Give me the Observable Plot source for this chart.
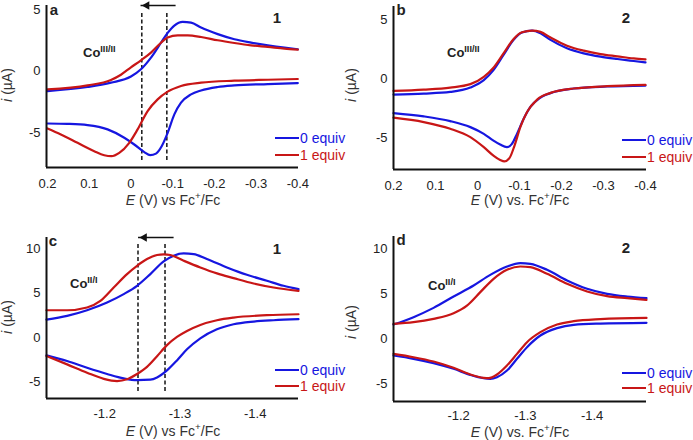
<!DOCTYPE html>
<html><head><meta charset="utf-8">
<script src="https://cdn.jsdelivr.net/npm/d3@7"></script>
<script src="https://cdn.jsdelivr.net/npm/@observablehq/plot@0.6"></script>
<style>
body{margin:0;background:#fff;}
#root{position:relative;width:693px;height:440px;overflow:hidden;background:#fff;font-family:"Liberation Sans",Arial,sans-serif;color:#222;}
.panel{position:absolute;}
.panel svg{max-width:none !important;background:transparent !important;overflow:visible;}
.t{position:absolute;white-space:nowrap;line-height:1;}
.b{font-weight:bold;}
.leg{position:absolute;display:flex;align-items:center;height:16px;font-size:14px;line-height:1;}
.leg span.sw{display:inline-block;width:24px;height:2px;margin-right:1px;}
sup{font-size:0.7em;vertical-align:0;position:relative;top:-0.6em;}
</style></head><body><div id="root"></div>
<script>
// ---------------- data ----------------
const blue = "#1616e0", red = "#c81616";
const seriesLabels = ["0 equiv", "1 equiv"];

// panel a: 1, Co(III/II)  [E (V), i (µA)]
const aBlue0Up = [[0.2,-1.63],[0.104,-1.3],[0.048,-0.95],[0.0,-0.45],[-0.024,0.14],[-0.048,1.09],[-0.072,2.3],[-0.088,3.1],[-0.104,3.7],[-0.124,4.0],[-0.144,3.94],[-0.168,3.53],[-0.208,3.0],[-0.248,2.58],[-0.288,2.31],[-0.328,2.09],[-0.368,1.9],[-0.4,1.77]];
const aRed1Up = [[0.2,-1.5],[0.104,-1.17],[0.048,-0.73],[0.024,-0.3],[0.0,0.3],[-0.024,0.87],[-0.048,1.5],[-0.072,2.3],[-0.088,2.72],[-0.112,2.9],[-0.136,2.9],[-0.168,2.77],[-0.208,2.5],[-0.248,2.28],[-0.288,2.09],[-0.328,1.96],[-0.368,1.82],[-0.4,1.74]];
const aBlue0Down = [[0.2,-4.27],[0.152,-4.3],[0.104,-4.4],[0.056,-4.75],[0.016,-5.43],[-0.008,-5.98],[-0.032,-6.6],[-0.046,-6.85],[-0.06,-6.72],[-0.074,-6.1],[-0.088,-5.03],[-0.104,-3.53],[-0.12,-2.58],[-0.144,-1.9],[-0.168,-1.58],[-0.208,-1.3],[-0.248,-1.17],[-0.328,-1.06],[-0.4,-0.98]];
const aRed1Down = [[0.2,-4.67],[0.168,-5.16],[0.128,-5.84],[0.088,-6.52],[0.064,-6.85],[0.047,-6.93],[0.028,-6.66],[0.004,-5.84],[-0.016,-4.75],[-0.04,-3.26],[-0.064,-2.31],[-0.088,-1.68],[-0.12,-1.22],[-0.168,-0.95],[-0.248,-0.79],[-0.328,-0.71],[-0.4,-0.65]];

// panel b: 2, Co(III/II)
const bBlue0Up = [[0.2,-1.36],[0.128,-1.28],[0.065,-1.14],[0.017,-0.77],[-0.015,-0.14],[-0.038,0.71],[-0.062,1.99],[-0.086,3.27],[-0.106,3.89],[-0.13,4.06],[-0.15,3.84],[-0.174,3.27],[-0.213,2.56],[-0.253,2.13],[-0.293,1.85],[-0.333,1.65],[-0.372,1.48],[-0.4,1.36]];
const bRed1Up = [[0.2,-1.05],[0.128,-0.94],[0.065,-0.77],[0.017,-0.48],[-0.015,0.14],[-0.038,0.91],[-0.062,2.13],[-0.086,3.35],[-0.106,3.92],[-0.13,4.06],[-0.15,3.95],[-0.174,3.47],[-0.213,2.78],[-0.253,2.36],[-0.293,2.07],[-0.333,1.88],[-0.372,1.7],[-0.4,1.62]];
const bBlue0Down = [[0.2,-2.93],[0.128,-3.21],[0.065,-3.61],[0.017,-4.12],[-0.015,-4.69],[-0.038,-5.26],[-0.054,-5.6],[-0.07,-5.82],[-0.082,-5.54],[-0.094,-4.69],[-0.11,-3.41],[-0.126,-2.41],[-0.15,-1.62],[-0.182,-1.14],[-0.229,-0.85],[-0.309,-0.68],[-0.4,-0.6]];
const bRed1Down = [[0.2,-3.32],[0.128,-3.69],[0.065,-4.26],[0.017,-4.97],[-0.015,-5.82],[-0.038,-6.53],[-0.054,-6.9],[-0.064,-7.02],[-0.076,-6.75],[-0.088,-5.7],[-0.102,-4.12],[-0.118,-2.84],[-0.142,-1.79],[-0.174,-1.22],[-0.229,-0.85],[-0.309,-0.65],[-0.4,-0.54]];

// panel c: 1, Co(II/I)
const cBlue0Up = [[-1.1226,2.04],[-1.15,2.45],[-1.1765,3.09],[-1.2031,3.96],[-1.2252,4.91],[-1.2429,5.85],[-1.2606,7.17],[-1.2783,8.6],[-1.2916,9.25],[-1.3049,9.5],[-1.3181,9.43],[-1.3358,8.87],[-1.3624,7.92],[-1.3889,7.09],[-1.4155,6.42],[-1.4376,5.85],[-1.4575,5.47]];
const cRed1Up = [[-1.1226,3.09],[-1.15,3.09],[-1.1765,3.4],[-1.1942,4.15],[-1.2119,5.66],[-1.2296,7.17],[-1.2429,8.11],[-1.2562,8.87],[-1.2695,9.32],[-1.2783,9.4],[-1.2872,9.32],[-1.3049,8.68],[-1.327,7.92],[-1.3491,7.25],[-1.3712,6.72],[-1.3978,6.11],[-1.4243,5.66],[-1.4575,5.28]];
const cBlue0Down = [[-1.1226,-2.0],[-1.15,-2.64],[-1.1765,-3.4],[-1.2031,-4.1],[-1.2252,-4.6],[-1.2429,-4.8],[-1.2606,-4.75],[-1.2695,-4.5],[-1.2827,-3.7],[-1.296,-2.57],[-1.3093,-1.32],[-1.327,-0.08],[-1.3491,0.94],[-1.3712,1.51],[-1.3978,1.81],[-1.4243,1.96],[-1.4575,2.08]];
const cRed1Down = [[-1.1226,-2.08],[-1.15,-3.02],[-1.1765,-3.96],[-1.1987,-4.65],[-1.2164,-4.9],[-1.2296,-4.7],[-1.2429,-4.1],[-1.2562,-3.3],[-1.2695,-2.1],[-1.2827,-0.85],[-1.296,0.08],[-1.3093,0.75],[-1.327,1.43],[-1.3491,1.96],[-1.3712,2.26],[-1.4155,2.53],[-1.4575,2.64]];

// panel d: 2, Co(II/I)
const dBlue0Up = [[-1.1025,1.59],[-1.1325,2.41],[-1.1625,3.44],[-1.1925,4.7],[-1.2225,5.93],[-1.2475,7.11],[-1.2725,8.04],[-1.2925,8.41],[-1.3075,8.33],[-1.3325,7.67],[-1.3625,6.48],[-1.3925,5.56],[-1.4225,5.0],[-1.4525,4.7],[-1.4815,4.52]];
const dRed1Up = [[-1.1025,1.67],[-1.1325,1.85],[-1.1625,2.22],[-1.1925,2.85],[-1.2125,3.7],[-1.2325,5.19],[-1.2525,6.67],[-1.2725,7.67],[-1.2925,8.04],[-1.3075,7.96],[-1.3325,7.22],[-1.3625,6.11],[-1.3925,5.26],[-1.4225,4.74],[-1.4525,4.52],[-1.4815,4.33]];
const dBlue0Down = [[-1.1025,-1.85],[-1.1325,-2.22],[-1.1625,-2.7],[-1.1925,-3.33],[-1.2175,-4.0],[-1.2375,-4.37],[-1.2475,-4.44],[-1.2575,-4.26],[-1.2725,-3.52],[-1.2875,-2.22],[-1.3025,-0.93],[-1.3225,0.37],[-1.3475,1.19],[-1.3725,1.56],[-1.4125,1.7],[-1.4815,1.78]];
const dRed1Down = [[-1.1025,-1.67],[-1.1325,-2.04],[-1.1625,-2.52],[-1.1925,-3.22],[-1.2175,-3.96],[-1.2375,-4.33],[-1.245,-4.37],[-1.2575,-3.96],[-1.2725,-2.96],[-1.2875,-1.67],[-1.3025,-0.37],[-1.3225,0.74],[-1.3475,1.59],[-1.3725,1.96],[-1.4125,2.19],[-1.4815,2.33]];

// ticks
const xTicksAB = [0.2, 0.1, 0, -0.1, -0.2, -0.3, -0.4];
const xTickLabelsAB = ["0.2", "0.1", "0", "-0.1", "-0.2", "-0.3", "-0.4"];
const xTicksCD = [-1.2, -1.3, -1.4];
const xTickLabelsCD = ["-1.2", "-1.3", "-1.4"];
const yTicksAB = [5, 0, -5];
const yTicksCD = [10, 5, 0, -5];

// dashed guide lines and arrows (panels a, c)
const dashA = [-0.026, -0.086], dashSpanA = [4.67, -7.47];
const arrowA = {from: -0.107, to: -0.027, at: 5.33};
const dashC = [-1.2442, -1.2801], dashSpanC = [10.5, -6.23];
const arrowC = {from: -1.2915, to: -1.2465, at: 11.3};

// ---------------- drawing ----------------
const root = document.getElementById("root");
const toObj = arr => arr.map(([E, i]) => ({E, i}));

function panel(cfg) {
  const marks = [
    Plot.axisX({ticks: cfg.xt, tickFormat: d => cfg.xl[cfg.xt.indexOf(d)], tickSize: 0, tickPadding: cfg.xpad, label: null, fontSize: 13}),
    Plot.axisY({ticks: cfg.yt, tickFormat: d => String(d), tickSize: 0, tickPadding: 6, label: null, fontSize: 13}),
  ];
  if (cfg.dash) {
    marks.push(Plot.ruleX(cfg.dash, {y1: cfg.dashSpan[0], y2: cfg.dashSpan[1], stroke: "#222", strokeWidth: 1.6, strokeDasharray: "4,2.5"}));
    marks.push(Plot.link([cfg.arrow], {x1: "from", x2: d => d.to - (d.from - d.to) * 0.05, y1: "at", y2: "at", stroke: "#111", strokeWidth: 1.6}));
    marks.push(Plot.dot([cfg.arrow], {x: "to", y: "at", symbol: "triangle", rotate: -90, r: 3.2, fill: "#111", stroke: null, dx: 4.6}));
  }
  for (const [arr, col] of cfg.lines) {
    marks.push(Plot.line(toObj(arr), {x: "E", y: "i", stroke: col, strokeWidth: 2.2, curve: "monotone-x"}));
  }
  marks.push(Plot.ruleX([cfg.xd[0]], {stroke: "#111", strokeWidth: 2}));
  marks.push(Plot.ruleY([cfg.yd[0]], {stroke: "#111", strokeWidth: 2}));
  const svg = Plot.plot({
    width: cfg.w, height: 220,
    marginLeft: cfg.m[3], marginRight: cfg.m[1], marginTop: cfg.m[0], marginBottom: cfg.m[2],
    x: {domain: cfg.xd}, y: {domain: cfg.yd},
    style: {fontFamily: '"Liberation Sans", Arial, sans-serif', color: "#222", background: "transparent"},
    marks
  });
  const div = document.createElement("div");
  div.className = "panel";
  div.style.left = cfg.left + "px"; div.style.top = cfg.top + "px";
  div.appendChild(svg);
  root.appendChild(div);
}

panel({left: 0, top: 0, w: 346, m: [5, 48, 53, 46], xd: [0.2024, -0.4016], yd: [-7.85, 5.33], xpad: 11,
  xt: xTicksAB, xl: xTickLabelsAB, yt: yTicksAB, dash: dashA, dashSpan: dashSpanA, arrow: arrowA,
  lines: [[aBlue0Up, blue], [aBlue0Down, blue], [aRed1Up, red], [aRed1Down, red]]});
panel({left: 340, top: 0, w: 353, m: [6, 47, 51, 53], xd: [0.2, -0.4024], yd: [-7.71, 6.1], xpad: 11,
  xt: xTicksAB, xl: xTickLabelsAB, yt: yTicksAB,
  lines: [[bBlue0Up, blue], [bBlue0Down, blue], [bRed1Up, red], [bRed1Down, red]]});
panel({left: 0, top: 220, w: 346, m: [17, 48, 42, 46], xd: [-1.1226, -1.4575], yd: [-6.87, 11.3], xpad: 10,
  xt: xTicksCD, xl: xTickLabelsCD, yt: yTicksCD, dash: dashC, dashSpan: dashSpanC, arrow: arrowC,
  lines: [[cBlue0Up, blue], [cBlue0Down, blue], [cRed1Up, red], [cRed1Down, red]]});
panel({left: 340, top: 220, w: 353, m: [16, 47, 39, 53], xd: [-1.1025, -1.4815], yd: [-6.96, 11.37], xpad: 9,
  xt: xTicksCD, xl: xTickLabelsCD, yt: yTicksCD,
  lines: [[dBlue0Up, blue], [dBlue0Down, blue], [dRed1Up, red], [dRed1Down, red]]});

// ---------------- text overlays ----------------
function text(html, x, y, size, cls, anchor) {
  const el = document.createElement("div");
  el.className = "t " + (cls || "");
  el.innerHTML = html;
  el.style.fontSize = size + "px";
  el.style.left = x + "px"; el.style.top = y + "px";
  el.style.transform = anchor === "c" ? "translate(-50%,-50%)" : "translate(0,-50%)";
  root.appendChild(el);
  return el;
}
function rotText(html, x, y, size) {
  const el = text(html, x, y, size, "", "c");
  el.style.transform = "translate(-50%,-50%) rotate(-90deg)";
  el.style.color = "#333";
}
const panelLetters = [["a", 54, 9], ["b", 401, 9], ["c", 53, 240], ["d", 401, 239]];
panelLetters.forEach(([s, x, y]) => text(s, x, y, 15, "b", "c"));
const compounds = [["1", 277, 17], ["2", 626, 17], ["1", 277, 248], ["2", 626, 247]];
compounds.forEach(([s, x, y]) => text(s, x, y, 15, "b", "c"));
const couples = [["III/II", 83, 53], ["III/II", 447, 53], ["II/I", 70, 284], ["II/I", 428, 286]];
couples.forEach(([s, x, y]) => text("Co<sup>" + s + "</sup>", x, y, 13, "b", "l"));

const xTitles = [["<i>E</i> (V) vs Fc<sup>+</sup>/Fc", 173, 200], ["<i>E</i> (V) vs. Fc<sup>+</sup>/Fc", 520, 200],
                 ["<i>E</i> (V) vs Fc<sup>+</sup>/Fc", 173, 431], ["<i>E</i> (V) vs. Fc<sup>+</sup>/Fc", 520, 432]];
xTitles.forEach(([s, x, y]) => { const e = text(s, x, y, 14, "", "c"); e.style.color = "#333"; });
const yTitles = [[7, 85], [351, 85], [7, 317], [351, 322]];
yTitles.forEach(([x, y]) => rotText("<i>i</i> (µA)", x, y, 14));

const legends = [[275, 138, 155], [622, 140, 157], [275, 370, 386], [622, 373, 388]];
legends.forEach(([x, y0, y1]) => {
  [[y0, blue, seriesLabels[0]], [y1, red, seriesLabels[1]]].forEach(([y, col, lab]) => {
    const el = document.createElement("div");
    el.className = "leg";
    el.style.left = x + "px"; el.style.top = (y - 8) + "px"; el.style.color = col;
    el.innerHTML = `<span class="sw" style="background:${col}"></span>${lab}`;
    root.appendChild(el);
  });
});
</script></body></html>
